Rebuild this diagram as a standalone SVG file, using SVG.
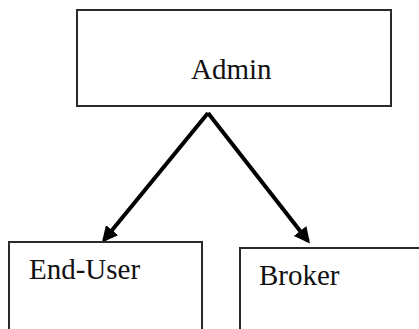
<svg xmlns="http://www.w3.org/2000/svg" width="419" height="329" viewBox="0 0 419 329">
  <style>
    .box { fill: #fff; stroke: #2a2a2a; stroke-width: 2; }
    .label { font-family: "Liberation Serif", "Times New Roman", serif; font-size: 29px; fill: #111; }
    .edge { fill: none; stroke: #000; stroke-width: 4; }
  </style>
  <defs>
    <marker id="head" viewBox="0 0 10 10" refX="8" refY="5" markerWidth="4" markerHeight="4" orient="auto" markerUnits="strokeWidth">
      <path d="M0,0 L10,5 L0,10 Z" fill="#000"/>
    </marker>
  </defs>
  <rect width="419" height="329" fill="#fff"/>

  <g id="connectors">
    <path class="edge" d="M208,113 L104,240" marker-end="url(#head)"/>
    <path class="edge" d="M208,113 L308,241" marker-end="url(#head)"/>
  </g>

  <g id="admin">
    <rect class="box" x="77" y="10" width="314" height="96"/>
    <text class="label" x="191" y="79">Admin</text>
  </g>

  <g id="end-user">
    <rect class="box" x="9" y="242" width="193" height="100"/>
    <text class="label" x="29" y="279">End-User</text>
  </g>

  <g id="broker">
    <rect class="box" x="240" y="248" width="200" height="100"/>
    <text class="label" x="259" y="285">Broker</text>
  </g>
</svg>
